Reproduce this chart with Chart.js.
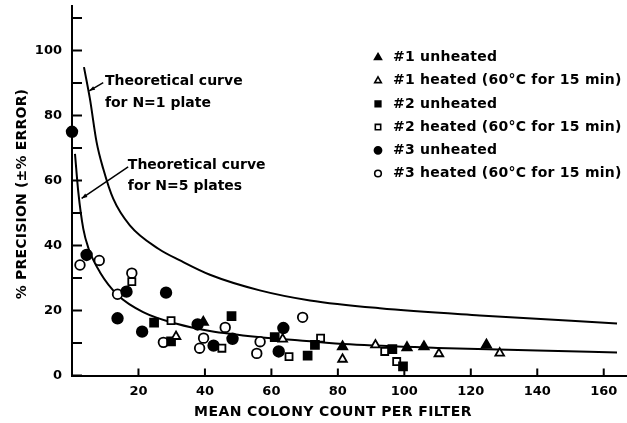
<!DOCTYPE html>
<html>
<head>
<meta charset="utf-8">
<script src="https://cdn.jsdelivr.net/npm/chart.js@4"></script>
<style>
  html, body { margin: 0; padding: 0; background: #fff; }
  canvas { display: block; }
</style>
</head>
<body>
<canvas id="chart" width="627" height="423"></canvas>
<script>
// values as [mean colony count, % precision]
const unheated1 = [[39.5, 16.4], [81.4, 8.9], [100.8, 8.6], [105.9, 8.9], [124.7, 9.4]];
const heated1 = [[31.3, 12], [63.4, 11.2], [81.4, 5], [91.3, 9.4], [110.4, 6.7], [128.7, 6.9]];
const unheated2 = [[24.7, 16.3], [29.8, 10.5], [48, 18.3], [61, 11.8], [70.9, 6.1], [73.1, 9.4], [96.4, 8.1], [99.6, 2.8]];
const heated2 = [[18, 28.9], [29.8, 16.9], [45.1, 8.4], [65.3, 5.8], [74.8, 11.5], [94.1, 7.4], [97.7, 4.3]];
const unheated3 = [[0, 75], [4.4, 37.1], [13.7, 17.6], [16.4, 25.8], [21.1, 13.5], [28.3, 25.5], [37.8, 15.7], [42.6, 9.2], [48.3, 11.3], [62.2, 7.4], [63.6, 14.6]];
const heated3 = [[2.4, 34], [8.2, 35.4], [13.7, 25], [18, 31.5], [27.5, 10.2], [38.4, 8.4], [39.6, 11.5], [46.1, 14.8], [55.6, 6.8], [56.6, 10.4], [69.4, 17.9]];

// theoretical curves
const curveN1 = [[3.6, 94.9], [5.4, 85.1], [7.4, 71.8], [9.4, 63.6], [12.4, 54.4], [17.4, 46.2], [26, 39], [32.5, 35.4], [41.5, 31], [56.5, 26.2], [71.6, 23.1], [92.6, 20.7], [122.7, 18.5], [164, 16]];
const curveN5 = [[0.9, 68.2], [1.9, 56.4], [3.4, 45.1], [5, 39], [8.4, 31.8], [13.9, 24.6], [21.4, 19.5], [31.5, 15.9], [41.5, 13.7], [56.5, 11.8], [68.6, 10.8], [83.6, 9.6], [110, 8.5], [140, 7.7], [164, 7.1]];

const seriesNames = ['#1 unheated', '#1 heated (60°C for 15 min)', '#2 unheated', '#2 heated (60°C for 15 min)', '#3 unheated', '#3 heated (60°C for 15 min)'];
const xTicks = [20, 40, 60, 80, 100, 120, 140, 160];
const yTicks = [0, 10, 20, 30, 40, 50, 60, 70, 80, 90, 100, 110];
const yLabels = [0, 20, 40, 60, 80, 100];
const curveNotes = [
  { lines: ['Theoretical curve', 'for N=1 plate'], at: [9.9, 90.4], from: [5.2, 87.6], to: [9.4, 90.1] },
  { lines: ['Theoretical curve', 'for N=5 plates'], at: [16.8, 64.8], from: [2.9, 54.5], to: [16.9, 64.2] }
];

const FONT = '"DejaVu Sans", sans-serif';

const markerStyles = [
  { pointStyle: 'triangle', fill: '#000', r: 5.4, lr: 4 },
  { pointStyle: 'triangle', fill: '#fff', r: 5, lr: 3.8 },
  { pointStyle: 'rect', fill: '#000', r: 5.6, lr: 4 },
  { pointStyle: 'rect', fill: '#fff', r: 5, lr: 3.8 },
  { pointStyle: 'circle', fill: '#000', r: 5.3, lr: 3.6 },
  { pointStyle: 'circle', fill: '#fff', r: 4.8, lr: 3.3 }
];

const toPts = arr => arr.map(p => ({ x: p[0], y: p[1] }));
const seriesData = [unheated1, heated1, unheated2, heated2, unheated3, heated3];

const datasets = seriesData.map((d, i) => ({
  label: seriesNames[i],
  data: toPts(d),
  pointStyle: markerStyles[i].pointStyle,
  pointRadius: markerStyles[i].r,
  pointBackgroundColor: markerStyles[i].fill,
  pointBorderColor: '#000',
  pointBorderWidth: 1.8,
  showLine: false,
  clip: false
}));
[curveN1, curveN5].forEach(c => datasets.push({
  label: 'curve',
  data: toPts(c),
  showLine: true,
  pointRadius: 0,
  borderColor: '#000',
  borderWidth: 2,
  cubicInterpolationMode: 'monotone',
  fill: false
}));

function drawMarker(ctx, style, radius, x, y) {
  ctx.fillStyle = style.fill;
  ctx.strokeStyle = '#000';
  ctx.lineWidth = 1.6;
  Chart.helpers.drawPoint(ctx, { pointStyle: style.pointStyle, radius: radius, rotation: 0, borderWidth: 1.6 }, x, y);
}

const figureExtras = {
  id: 'figureExtras',
  afterDraw(chart) {
    const ctx = chart.ctx;
    const area = chart.chartArea;
    const xs = chart.scales.x, ys = chart.scales.y;
    ctx.save();
    ctx.strokeStyle = '#000';
    ctx.lineWidth = 2;
    // inward tick marks
    ctx.beginPath();
    yTicks.forEach(v => {
      const py = ys.getPixelForValue(v);
      ctx.moveTo(area.left, py);
      ctx.lineTo(area.left + 10, py);
    });
    xTicks.forEach(v => {
      const px = xs.getPixelForValue(v);
      ctx.moveTo(px, area.bottom);
      ctx.lineTo(px, area.bottom - 7);
    });
    ctx.stroke();

    // curve labels with leaders
    ctx.fillStyle = '#000';
    ctx.font = 'bold 14px ' + FONT;
    ctx.textBaseline = 'middle';
    ctx.textAlign = 'left';
    curveNotes.forEach(n => {
      const tx = xs.getPixelForValue(n.at[0]);
      const ty = ys.getPixelForValue(n.at[1]);
      n.lines.forEach((t, k) => ctx.fillText(t, tx, ty + k * 21.6));
      const x0 = xs.getPixelForValue(n.from[0]), y0 = ys.getPixelForValue(n.from[1]);
      const x1 = xs.getPixelForValue(n.to[0]), y1 = ys.getPixelForValue(n.to[1]);
      ctx.lineWidth = 1.5;
      ctx.beginPath();
      ctx.moveTo(x1, y1);
      ctx.lineTo(x0, y0);
      ctx.stroke();
      const a = Math.atan2(y0 - y1, x0 - x1);
      ctx.beginPath();
      ctx.moveTo(x0, y0);
      ctx.lineTo(x0 - 6 * Math.cos(a - 0.35), y0 - 6 * Math.sin(a - 0.35));
      ctx.lineTo(x0 - 6 * Math.cos(a + 0.35), y0 - 6 * Math.sin(a + 0.35));
      ctx.closePath();
      ctx.fill();
    });

    // legend
    ctx.letterSpacing = '0.25px';
    seriesNames.forEach((name, i) => {
      const ly = 57.5 + i * 23.2;
      drawMarker(ctx, markerStyles[i], markerStyles[i].lr, 378, ly);
      ctx.fillStyle = '#000';
      ctx.font = 'bold 14px ' + FONT;
      ctx.fillText(name, 393, ly);
    });

    // axis titles
    ctx.font = 'bold 14px ' + FONT;
    ctx.textAlign = 'center';
    ctx.letterSpacing = '0.4px';
    ctx.fillText('MEAN COLONY COUNT PER FILTER', 333, 412);
    ctx.letterSpacing = '0.2px';
    ctx.translate(22, 194);
    ctx.rotate(-Math.PI / 2);
    ctx.fillText('% PRECISION (±% ERROR)', 0, 0);
    ctx.restore();
  }
};

new Chart(document.getElementById('chart'), {
  type: 'scatter',
  data: { datasets: datasets },
  options: {
    responsive: false,
    animation: false,
    layout: { autoPadding: false, padding: { top: 6, right: 0, left: 0, bottom: 0 } },
    plugins: { legend: { display: false }, tooltip: { enabled: false } },
    scales: {
      x: {
        type: 'linear',
        min: 0,
        max: 167,
        afterBuildTicks: s => { s.ticks = xTicks.map(v => ({ value: v })); },
        afterFit: s => { s.height = 47.5; s.paddingLeft = 0; s.paddingRight = 0; },
        grid: { display: false, drawTicks: false },
        border: { display: true, color: '#000', width: 2 },
        ticks: {
          autoSkip: false,
          maxRotation: 0,
          padding: 8,
          color: '#000',
          font: { family: FONT, size: 13, weight: 'bold' }
        }
      },
      y: {
        type: 'linear',
        min: 0,
        max: 113.7,
        afterBuildTicks: s => { s.ticks = yLabels.map(v => ({ value: v })); },
        afterFit: s => { s.width = 72; s.paddingTop = 0; s.paddingBottom = 0; },
        grid: { display: false, drawTicks: false },
        border: { display: true, color: '#000', width: 2 },
        ticks: {
          autoSkip: false,
          padding: 10,
          color: '#000',
          font: { family: FONT, size: 13, weight: 'bold' }
        }
      }
    }
  },
  plugins: [figureExtras]
});
</script>
</body>
</html>
